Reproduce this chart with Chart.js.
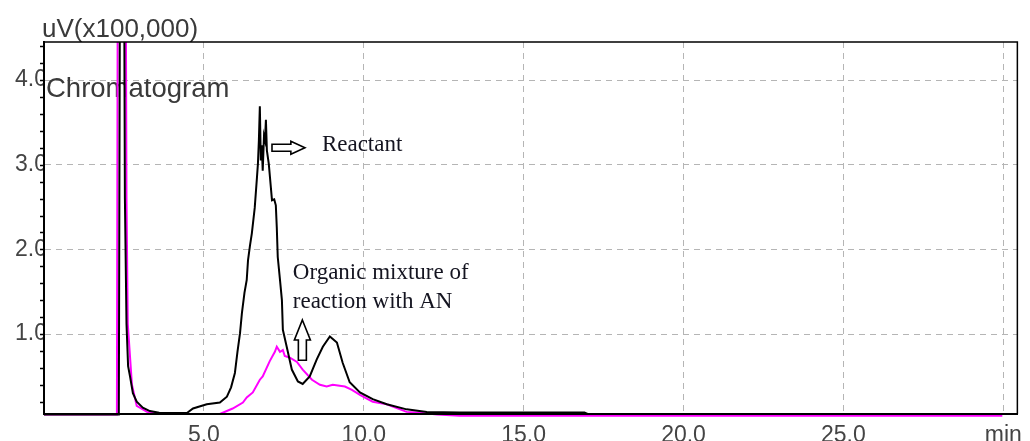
<!DOCTYPE html>
<html>
<head>
<meta charset="utf-8">
<title>Chromatogram</title>
<script src="https://cdn.jsdelivr.net/npm/chart.js@4.4.1/dist/chart.umd.min.js"></script>
<style>
  html, body { margin: 0; padding: 0; background: #ffffff; }
  canvas { display: block; }
</style>
</head>
<body>
<canvas id="chromatogram" width="1030" height="441"></canvas>
<script>
// Retention time (min) and detector signal (uV x 100,000) for the reactant trace
const reactantTime = [0, 1.0, 2.0, 2.34, 2.38, 2.5, 2.53, 2.58, 2.63, 2.69, 2.78, 2.9, 3.09, 3.31, 3.6, 4.0, 4.47,
  4.66, 5.09, 5.5, 5.72, 5.85, 5.97, 6.05, 6.13, 6.19, 6.27, 6.34, 6.38, 6.44, 6.5, 6.59, 6.66, 6.69, 6.72,
  6.75, 6.78, 6.81, 6.84, 6.88, 6.91, 6.94, 6.97, 7.03, 7.13, 7.2, 7.25, 7.28, 7.31, 7.38, 7.44, 7.47, 7.59,
  7.75, 7.94, 8.09, 8.31, 8.53, 8.72, 8.94, 9.16, 9.34, 9.56, 9.88, 10.28, 10.72, 11.34, 11.97, 13.0, 15.0,
  16.9, 17.0, 20.0, 25.0, 29.97];
const reactantSignal = [0.05, 0.05, 0.05, 0.05, 6.0, 6.0, 2.6, 1.12, 0.62, 0.5, 0.3, 0.2, 0.13, 0.09, 0.07, 0.067, 0.067,
  0.12, 0.17, 0.19, 0.26, 0.37, 0.54, 0.79, 1.01, 1.25, 1.49, 1.64, 1.87, 2.04, 2.19, 2.49, 2.85, 3.01, 3.29,
  3.69, 3.05, 3.23, 2.93, 3.34, 3.29, 3.53, 3.17, 3.01, 2.58, 2.59, 2.52, 2.26, 1.91, 1.64, 1.4, 1.05, 0.85,
  0.58, 0.44, 0.41, 0.5, 0.7, 0.85, 0.97, 0.9, 0.66, 0.43, 0.31, 0.23, 0.17, 0.11, 0.08, 0.073, 0.073,
  0.073, 0.055, 0.055, 0.055, 0.055];

// Organic mixture of the reaction with AN
const mixtureTime = [0, 1.0, 2.0, 2.28, 2.31, 2.55, 2.58, 2.62, 2.66, 2.75, 2.9, 3.22, 3.5, 4.5, 5.5, 5.9, 6.22,
  6.34, 6.53, 6.75, 6.84, 7.06, 7.22, 7.28, 7.38, 7.47, 7.53, 7.69, 7.91, 8.09, 8.38, 8.63, 8.84, 9.03, 9.41,
  9.63, 9.88, 10.28, 10.72, 11.34, 11.75, 12.3, 13.0, 20.0, 29.97];
const mixtureSignal = [0.05, 0.05, 0.05, 0.05, 6.0, 6.0, 2.6, 1.12, 0.9, 0.4, 0.15, 0.08, 0.06, 0.055, 0.055, 0.12, 0.19,
  0.25, 0.31, 0.46, 0.5, 0.68, 0.79, 0.85, 0.79, 0.81, 0.74, 0.72, 0.67, 0.58, 0.46, 0.4, 0.38, 0.4, 0.38,
  0.34, 0.28, 0.2, 0.17, 0.08, 0.07, 0.05, 0.035, 0.035, 0.035];

const xTickValues = [5, 10, 15, 20, 25, 30];
const xTickLabels = ['5.0', '10.0', '15.0', '20.0', '25.0', 'min'];
const yTickValues = [1, 2, 3, 4];
const yTickLabels = ['1.0', '2.0', '3.0', '4.0'];
const yMinorStep = 0.2;

const unitText = 'uV(x100,000)';
const titleText = 'Chromatogram';
const reactantNote = ['Reactant'];
const mixtureNote = ['Organic mixture of', 'reaction with AN'];

// Where the notes and their hollow arrows sit, in (min, signal) units
const reactantNoteAt = { x: 8.69, y: 3.23 };
const reactantArrow = { from: 7.13, neck: 7.72, tip: 8.16, y: 3.2 };
const mixtureNoteAt = { x: 7.78, y: 1.72, lineStep: 0.34 };
const mixtureArrow = { x: 8.08, tip: 1.166, neck: 0.93, base: 0.69 };

const SANS = '"Liberation Sans", Arial, sans-serif';
const SERIF = '"Liberation Serif", "Times New Roman", serif';

function toPoints(xs, ys) {
  return xs.map((x, i) => ({ x: x, y: ys[i] }));
}

function hollowArrow(ctx, pts) {
  ctx.save();
  ctx.beginPath();
  pts.forEach((p, i) => (i ? ctx.lineTo(p[0], p[1]) : ctx.moveTo(p[0], p[1])));
  ctx.closePath();
  ctx.fillStyle = '#ffffff';
  ctx.fill();
  ctx.lineWidth = 1.6;
  ctx.strokeStyle = '#000000';
  ctx.lineJoin = 'miter';
  ctx.stroke();
  ctx.restore();
}

const decorations = {
  id: 'decorations',
  beforeDatasetsDraw(chart) {
    const { ctx, chartArea: a } = chart;
    ctx.save();
    ctx.fillStyle = '#3a3a3a';
    ctx.textAlign = 'left';
    ctx.textBaseline = 'alphabetic';
    ctx.font = '26px ' + SANS;
    ctx.fillText(unitText, a.left - 2, a.top - 5);
    ctx.font = '27.5px ' + SANS;
    ctx.fillText(titleText, a.left + 2, a.top + 55);
    ctx.restore();
  },
  afterDatasetsDraw(chart) {
    const { ctx, chartArea: a, scales } = chart;
    const xs = scales.x, ys = scales.y;
    ctx.save();
    // frame of the plot
    ctx.strokeStyle = '#000000';
    ctx.lineWidth = 1.5;
    ctx.beginPath();
    ctx.moveTo(a.left, a.top);
    ctx.lineTo(a.right, a.top);
    ctx.lineTo(a.right, a.bottom);
    ctx.stroke();
    ctx.lineWidth = 2;
    ctx.beginPath();
    ctx.moveTo(a.left, a.top - 1);
    ctx.lineTo(a.left, a.bottom);
    ctx.lineTo(a.right, a.bottom);
    ctx.stroke();
    // minor ticks on the signal axis
    ctx.lineWidth = 1.5;
    ctx.beginPath();
    for (let v = yMinorStep; v < ys.max; v += yMinorStep) {
      const py = Math.round(ys.getPixelForValue(v)) + 0.5;
      ctx.moveTo(a.left - 4, py);
      ctx.lineTo(a.left, py);
    }
    ctx.stroke();

    // notes
    ctx.fillStyle = '#141420';
    ctx.font = '23px ' + SERIF;
    ctx.textAlign = 'left';
    ctx.textBaseline = 'middle';
    reactantNote.forEach((t) => {
      ctx.fillText(t, xs.getPixelForValue(reactantNoteAt.x), ys.getPixelForValue(reactantNoteAt.y));
    });
    mixtureNote.forEach((t, i) => {
      ctx.fillText(t, xs.getPixelForValue(mixtureNoteAt.x),
        ys.getPixelForValue(mixtureNoteAt.y - i * mixtureNoteAt.lineStep));
    });

    // arrow pointing at the reactant peak label
    const rx0 = xs.getPixelForValue(reactantArrow.from);
    const rx1 = xs.getPixelForValue(reactantArrow.neck);
    const rx2 = xs.getPixelForValue(reactantArrow.tip);
    const ry = ys.getPixelForValue(reactantArrow.y);
    hollowArrow(ctx, [[rx0, ry - 3.5], [rx1, ry - 3.5], [rx1, ry - 6.5], [rx2, ry],
      [rx1, ry + 6.5], [rx1, ry + 3.5], [rx0, ry + 3.5]]);

    // arrow pointing up at the mixture note
    const mx = xs.getPixelForValue(mixtureArrow.x);
    const my0 = ys.getPixelForValue(mixtureArrow.tip);
    const my1 = ys.getPixelForValue(mixtureArrow.neck);
    const my2 = ys.getPixelForValue(mixtureArrow.base);
    hollowArrow(ctx, [[mx, my0], [mx + 8, my1], [mx + 4, my1], [mx + 4, my2],
      [mx - 4, my2], [mx - 4, my1], [mx - 8, my1]]);
    ctx.restore();
  }
};

new Chart(document.getElementById('chromatogram'), {
  type: 'line',
  data: {
    datasets: [
      {
        label: 'Reactant',
        data: toPoints(reactantTime, reactantSignal),
        borderColor: '#000000',
        borderWidth: 2,
        pointRadius: 0,
        tension: 0,
        fill: false,
        clip: { left: 0, top: 0, right: 0, bottom: 4 }
      },
      {
        label: 'Organic mixture of reaction with AN',
        data: toPoints(mixtureTime, mixtureSignal),
        borderColor: '#ff00ff',
        borderWidth: 2,
        pointRadius: 0,
        tension: 0,
        fill: false,
        clip: { left: 0, top: 0, right: 0, bottom: 4 }
      }
    ]
  },
  options: {
    responsive: false,
    animation: false,
    devicePixelRatio: 1,
    layout: { padding: { top: 42, right: 12, bottom: 0, left: 0 } },
    plugins: { legend: { display: false }, tooltip: { enabled: false } },
    scales: {
      x: {
        type: 'linear',
        min: 0,
        max: 30.44,
        afterBuildTicks: (s) => { s.ticks = xTickValues.map(v => ({ value: v })); },
        afterFit: (s) => { s.height = 27; },
        grid: { color: '#b5b5b5', lineWidth: 1, drawTicks: false },
        border: { display: true, color: '#000000', width: 2, dash: [6, 5] },
        ticks: {
          autoSkip: false,
          maxRotation: 0,
          padding: 8,
          color: '#444444',
          font: { family: SANS, size: 23 },
          callback: (v) => xTickLabels[xTickValues.indexOf(v)]
        }
      },
      y: {
        type: 'linear',
        min: 0.055,
        max: 4.45,
        afterBuildTicks: (s) => { s.ticks = yTickValues.map(v => ({ value: v })); },
        afterFit: (s) => { s.width = 44; },
        grid: { color: '#b5b5b5', lineWidth: 1, drawTicks: false },
        border: { display: true, color: '#000000', width: 2, dash: [6, 5] },
        ticks: {
          padding: -3,
          color: '#444444',
          font: { family: SANS, size: 23 },
          callback: (v) => yTickLabels[yTickValues.indexOf(v)]
        }
      }
    }
  },
  plugins: [decorations]
});
</script>
</body>
</html>
